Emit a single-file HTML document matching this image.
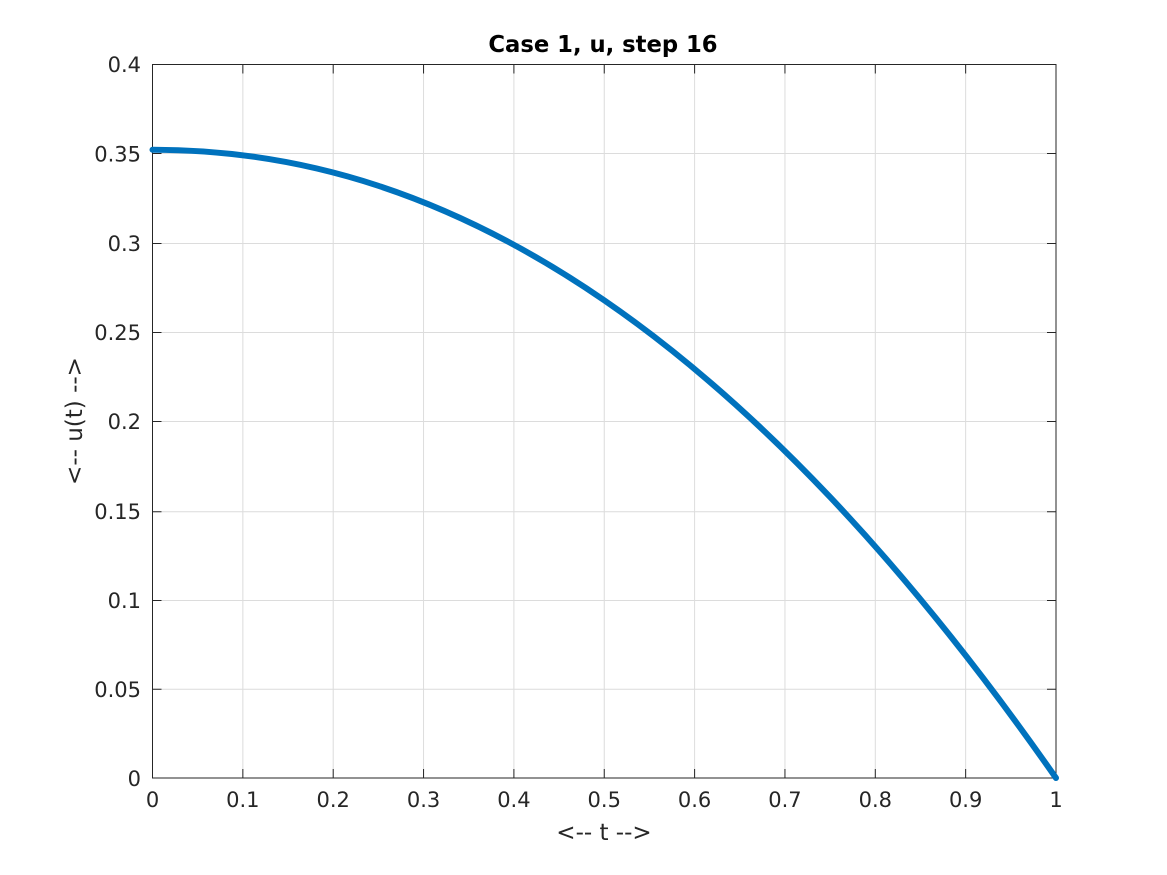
<!DOCTYPE html>
<html><head><style>body{margin:0;background:#fff}svg{display:block}</style></head><body>
<svg width="1167" height="875" xmlns="http://www.w3.org/2000/svg" font-family="'DejaVu Sans','Liberation Sans',sans-serif">
<rect width="1167" height="875" fill="#fff"/>
<g stroke="#dcdcdc" stroke-width="1">
<line x1="242.85" y1="64.5" x2="242.85" y2="778"/><line x1="333.2" y1="64.5" x2="333.2" y2="778"/><line x1="423.55" y1="64.5" x2="423.55" y2="778"/><line x1="513.9" y1="64.5" x2="513.9" y2="778"/><line x1="604.25" y1="64.5" x2="604.25" y2="778"/><line x1="694.6" y1="64.5" x2="694.6" y2="778"/><line x1="784.95" y1="64.5" x2="784.95" y2="778"/><line x1="875.3" y1="64.5" x2="875.3" y2="778"/><line x1="965.65" y1="64.5" x2="965.65" y2="778"/>
<line x1="152.5" y1="689.25" x2="1056" y2="689.25"/><line x1="152.5" y1="600.5" x2="1056" y2="600.5"/><line x1="152.5" y1="511.75" x2="1056" y2="511.75"/><line x1="152.5" y1="421.5" x2="1056" y2="421.5"/><line x1="152.5" y1="332.5" x2="1056" y2="332.5"/><line x1="152.5" y1="243.5" x2="1056" y2="243.5"/><line x1="152.5" y1="153.5" x2="1056" y2="153.5"/>
</g>
<g stroke="#262626" stroke-width="1">
<rect x="152.5" y="64.5" width="903.5" height="713.5" fill="none"/>
<path d="M242.85 778v-9M333.2 778v-9M423.55 778v-9M513.9 778v-9M604.25 778v-9M694.6 778v-9M784.95 778v-9M875.3 778v-9M965.65 778v-9M242.85 64.5v9M333.2 64.5v9M423.55 64.5v9M513.9 64.5v9M604.25 64.5v9M694.6 64.5v9M784.95 64.5v9M875.3 64.5v9M965.65 64.5v9"/>
<path d="M152.5 689.25h9M152.5 600.5h9M152.5 511.75h9M152.5 421.5h9M152.5 332.5h9M152.5 243.5h9M152.5 153.5h9M1056 689.25h-9M1056 600.5h-9M1056 511.75h-9M1056 421.5h-9M1056 332.5h-9M1056 243.5h-9M1056 153.5h-9"/>
</g>
<path fill="none" stroke="#0072BD" stroke-width="6" stroke-linecap="round" d="M152.5,149.7 C227.8,149.7 303.1,161 378.4,185.8 C453.7,210.6 529,248.6 604.25,300.3 C679.5,352 754.8,417.6 830.1,497.1 C905.4,576.6 980.7,670.1 1056,778"/>
<g fill="#262626" font-size="21" text-anchor="middle">
<text x="152.5" y="807">0</text><text x="242.85" y="807">0.1</text><text x="333.2" y="807">0.2</text><text x="423.55" y="807">0.3</text><text x="513.9" y="807">0.4</text><text x="604.25" y="807">0.5</text><text x="694.6" y="807">0.6</text><text x="784.95" y="807">0.7</text><text x="875.3" y="807">0.8</text><text x="965.65" y="807">0.9</text><text x="1056" y="807">1</text>
</g>
<g fill="#262626" font-size="21" text-anchor="end">
<text x="141" y="786">0</text><text x="141" y="697">0.05</text><text x="141" y="608">0.1</text><text x="141" y="519">0.15</text><text x="141" y="429">0.2</text><text x="141" y="340">0.25</text><text x="141" y="251">0.3</text><text x="141" y="161.5">0.35</text><text x="141" y="72">0.4</text>
</g>
<text x="604" y="840" fill="#262626" font-size="23" text-anchor="middle">&lt;-- t --&gt;</text>
<text transform="translate(82,421) rotate(-90)" fill="#262626" font-size="23" text-anchor="middle">&lt;-- u(t) --&gt;</text>
<text x="603" y="52" fill="#000" font-size="22.7" font-weight="bold" text-anchor="middle">Case 1, u, step 16</text>
</svg>
</body></html>
